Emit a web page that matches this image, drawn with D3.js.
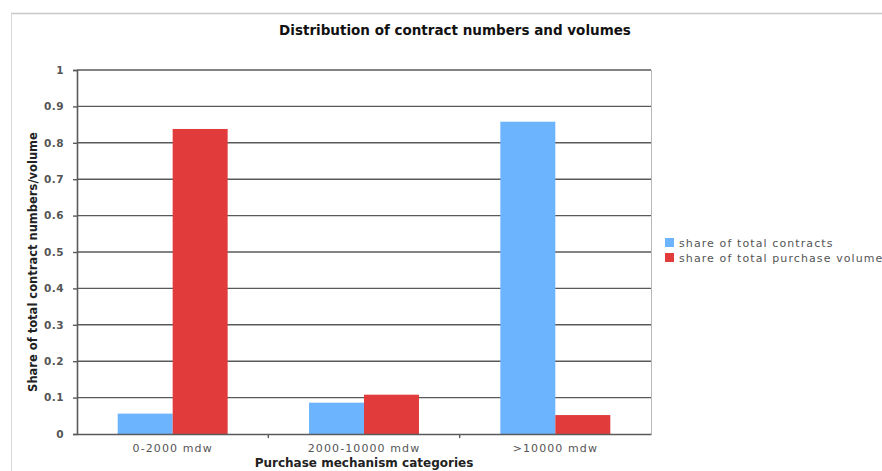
<!DOCTYPE html>
<html>
<head>
<meta charset="utf-8">
<script src="https://cdn.jsdelivr.net/npm/d3@7"></script>
<style>
  body { margin: 0; background: #fff; }
  text { font-family: "DejaVu Sans", Verdana, sans-serif; }
</style>
</head>
<body>
<svg class="chart" width="882" height="471"></svg>
<script>
// Chart data
var categories = ["0-2000 mdw", "2000-10000 mdw", ">10000 mdw"];
var seriesNames = ["share of total contracts", "share of total purchase volume"];
var contractsShare = [0.056, 0.086, 0.858];
var volumeShare = [0.838, 0.108, 0.052];
var yTicks = [0, 0.1, 0.2, 0.3, 0.4, 0.5, 0.6, 0.7, 0.8, 0.9, 1];
var colors = ["#6cb5fe", "#e13b3b"];

var rows = categories.map(function(c, i) {
    return {cat: c, values: [contractsShare[i], volumeShare[i]]};
});

var svg = d3.select(".chart");

// plot area
var plot = {left: 77, right: 651, top: 70, bottom: 434};

// outer frame (light grey)
svg.append("line")
    .attr("x1", 11).attr("x2", 882).attr("y1", 13.5).attr("y2", 13.5)
    .attr("stroke", "#c8c8c8").attr("stroke-width", 1.5);
svg.append("line")
    .attr("x1", 11.5).attr("x2", 11.5).attr("y1", 13).attr("y2", 471)
    .attr("stroke", "#d6d6d6").attr("stroke-width", 1);

var x0 = d3.scaleBand()
    .domain(categories)
    .range([plot.left, plot.right]);

var x1 = d3.scaleBand()
    .domain([0, 1])
    .range([0, x0.bandwidth()])
    .paddingOuter(0.74);

var y = d3.scaleLinear()
    .domain([0, 1])
    .range([plot.bottom, plot.top]);

// right border of plot
svg.append("line")
    .attr("x1", plot.right + 0.5).attr("x2", plot.right + 0.5)
    .attr("y1", plot.top).attr("y2", plot.bottom)
    .attr("stroke", "#b8b8b8");

// gridlines
svg.append("g")
    .selectAll("line")
    .data(yTicks.filter(function(d) { return d > 0; })).enter()
    .append("line")
    .attr("x1", plot.left).attr("x2", plot.right)
    .attr("y1", function(d) { return y(d); })
    .attr("y2", function(d) { return y(d); })
    .attr("stroke", "#5a5a5a")
    .attr("stroke-width", 1.4);

// bars
svg.append("g")
    .selectAll("g")
    .data(rows).enter()
    .append("g")
    .attr("transform", function(d) { return "translate(" + x0(d.cat) + ",0)"; })
    .selectAll("rect")
    .data(function(d) { return d.values; }).enter()
    .append("rect")
    .attr("x", function(d, i) { return x1(i); })
    .attr("width", x1.bandwidth())
    .attr("y", function(d) { return y(d); })
    .attr("height", function(d) { return y(0) - y(d); })
    .attr("fill", function(d, i) { return colors[i]; });

// y axis
var yAxis = svg.append("g")
    .attr("transform", "translate(" + plot.left + ",0)")
    .call(d3.axisLeft(y)
        .tickValues(yTicks)
        .tickSize(4)
        .tickPadding(9)
        .tickFormat(function(d) { return String(+d.toFixed(1)); }));
yAxis.select(".domain").attr("stroke", "#5a5a5a").attr("stroke-width", 1.6);
yAxis.selectAll(".tick line").attr("stroke", "#5a5a5a").attr("stroke-width", 1.4);
yAxis.selectAll(".tick text")
    .attr("fill", "#555")
    .style("font-size", "10.5px")
    .style("font-weight", "bold")
    .style("letter-spacing", "0.5px")
    .style("font-family", "'DejaVu Sans', sans-serif");

// x axis
var xAxis = svg.append("g")
    .attr("transform", "translate(0," + plot.bottom + ")")
    .call(d3.axisBottom(x0).tickSize(0).tickPadding(10));
xAxis.select(".domain").attr("stroke", "#5a5a5a").attr("stroke-width", 1.6);
xAxis.selectAll(".tick text")
    .attr("fill", "#555")
    .style("font-size", "11px")
    .style("letter-spacing", "1.1px")
    .style("font-family", "'DejaVu Sans', sans-serif");

// category separators below axis
xAxis.selectAll(".sep")
    .data(categories.slice(1)).enter()
    .append("line")
    .attr("class", "sep")
    .attr("x1", function(d) { return x0(d); })
    .attr("x2", function(d) { return x0(d); })
    .attr("y1", 0).attr("y2", 4)
    .attr("stroke", "#5a5a5a").attr("stroke-width", 1.4);

// title
svg.append("text")
    .attr("x", 455).attr("y", 35)
    .attr("text-anchor", "middle")
    .style("font-size", "13.5px")
    .style("font-weight", "bold")
    .attr("fill", "#111")
    .text("Distribution of contract numbers and volumes");

// axis titles
svg.append("text")
    .attr("transform", "translate(37,262) rotate(-90)")
    .attr("text-anchor", "middle")
    .style("font-size", "11.5px")
    .style("font-weight", "bold")
    .attr("fill", "#222")
    .text("Share of total contract numbers/volume");

svg.append("text")
    .attr("x", 364).attr("y", 467)
    .attr("text-anchor", "middle")
    .style("font-size", "12px")
    .style("font-weight", "bold")
    .attr("fill", "#222")
    .text("Purchase mechanism categories");

// legend
var legend = svg.append("g")
    .attr("transform", "translate(665,238)")
    .selectAll("g")
    .data(seriesNames).enter()
    .append("g")
    .attr("transform", function(d, i) { return "translate(0," + (i * 15) + ")"; });

legend.append("rect")
    .attr("width", 9).attr("height", 9)
    .attr("fill", function(d, i) { return colors[i]; });

legend.append("text")
    .attr("x", 14).attr("y", 9)
    .style("font-size", "11px")
    .style("letter-spacing", "1.1px")
    .attr("fill", "#555")
    .text(function(d) { return d; });
</script>
</body>
</html>
